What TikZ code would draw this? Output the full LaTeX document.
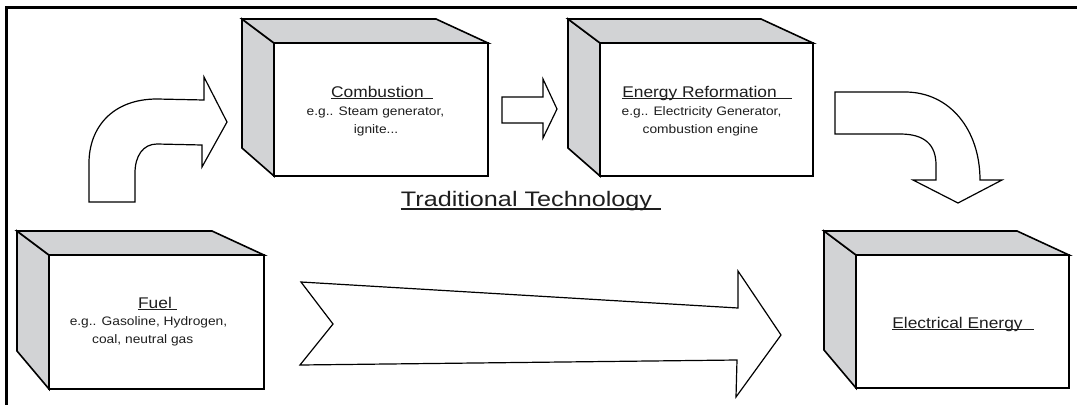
\documentclass[tikz,border=0pt]{standalone}
\usepackage{fontspec}
\setmainfont{Liberation Sans}
\newfontfamily\boxfont{Liberation Sans}[FakeStretch=1.12]
\newfontfamily\widefont{Liberation Sans}[FakeStretch=1.2]
\definecolor{sidegray}{HTML}{D2D3D5}
\definecolor{inkgray}{HTML}{1E1E1E}

% A cuboid: grey left and top faces, white front face node.
% #1 name, #2 left, #3 top, #4 right, #5 bottom, #6 rise of lower back corner
\newcommand\cuboid[6]{%
  \draw[sideface] ({#2-32},{#3-24}) -- (#2,#3) -- (#2,#5) -- ({#2-32},{#5-#6}) -- cycle;
  \draw[sideface] ({#2-32},{#3-24}) -- ({#4-52},{#3-24}) -- (#4,#3) -- (#2,#3) -- cycle;
  \node[frontface, minimum width={#4-#2}, minimum height={#5-#3}] (#1) at ({(#2+#4)/2},{(#3+#5)/2}) {};
}

\begin{document}
\begin{tikzpicture}[x=1pt,y=-1pt,
  outline/.style={draw=black, line width=1.6pt, line join=miter},
  sideface/.style={outline, fill=sidegray},
  frontface/.style={outline, fill=white, rectangle, inner sep=0pt, outer sep=0pt},
  flow/.style={draw=black, line width=1.2pt, fill=white, line join=miter},
  title/.style={inner sep=0pt, anchor=base, text=inkgray, font=\boxfont\fontsize{15.5}{18}\selectfont},
  note/.style={inner sep=0pt, anchor=base, text=inkgray, font=\boxfont\fontsize{12.3}{15}\selectfont},
  uline/.style={draw=inkgray, line width=1.1pt},
]
\useasboundingbox (0,0) rectangle (1077,405);

% frame
\draw[line width=3pt] (5,7) -- (1077,7);
\draw[line width=2.2pt] (6.5,6) -- (6.5,405);

% blocks
\cuboid{fuel}{49}{255}{264}{389}{38}
\cuboid{comb}{274}{43}{488}{176}{28}
\cuboid{reform}{600}{43}{813}{176}{28}
\cuboid{elec}{856}{255}{1069}{388}{38}

% block arrows
\draw[flow] (89,202) -- (89,163) .. controls (89,128) and (112,99) .. (157,99)
  -- (204,100) -- (204,77) -- (227,122) -- (202,167) -- (202,145) -- (157,144)
  .. controls (143,144) and (135,156) .. (135,173) -- (135,202) -- cycle;
\draw[flow] (502,97) -- (543,97) -- (543,79) -- (557,109) -- (543,138)
  -- (543,123) -- (502,123) -- cycle;
\draw[flow] (835,92) -- (905,92) .. controls (950,92) and (980,130) .. (980,180)
  -- (1002,180) -- (958,203) -- (913,180) -- (936,180) -- (936,165)
  .. controls (936,145) and (925,134) .. (900,134) -- (835,134) -- cycle;
\draw[flow] (301,282) -- (738,308) -- (738,271) -- (781,335) -- (736,397)
  -- (737,360) -- (300,365) -- (333,324) -- cycle;

% combustion
\node[title] (combT) at (377.5,97) {Combustion};
\draw[uline] ([yshift=-1.6pt]combT.base west) -- ([xshift=9pt,yshift=-1.6pt]combT.base east);
\node[note] (combA) at (375.5,115) {e.g.. Steam generator,};
\node[note] (combB) at (376,133) {ignite...};

% energy reformation
\node[title] (refT) at (699.5,97) {Energy Reformation};
\draw[uline] ([yshift=-1.6pt]refT.base west) -- ([xshift=15pt,yshift=-1.6pt]refT.base east);
\node[note] (refA) at (701.5,115) {e.g.. Electricity Generator,};
\node[note] (refB) at (700.5,133) {combustion engine};

% heading
\node[inner sep=0pt, anchor=base, text=inkgray, font=\widefont\fontsize{21}{24}\selectfont] (trad) at (526.5,206) {Traditional Technology};
\draw[uline, line width=1.3pt] ([yshift=-3pt]trad.base west) -- ([xshift=9pt,yshift=-3pt]trad.base east);

% fuel
\node[title] (fuelT) at (155,308) {Fuel};
\draw[uline] ([yshift=-1.6pt]fuelT.base west) -- ([xshift=5pt,yshift=-1.6pt]fuelT.base east);
\node[note] (fuelA) at (148.5,325) {e.g.. Gasoline, Hydrogen,};
\node[note, anchor=base west] (fuelB) at (92,343) {coal, neutral gas};

% electrical energy
\node[title] (elecT) at (957.5,328) {Electrical Energy};
\draw[uline] ([yshift=-1.6pt]elecT.base west) -- ([xshift=11pt,yshift=-1.6pt]elecT.base east);
\end{tikzpicture}
\end{document}
